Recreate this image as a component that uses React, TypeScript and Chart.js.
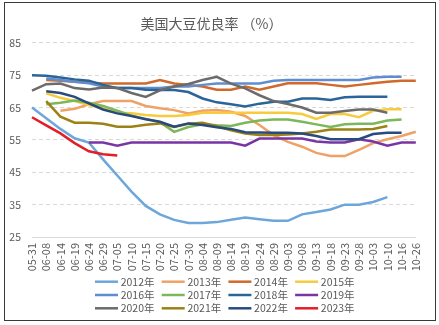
import React, { useEffect, useRef } from 'react';
import { Chart, registerables } from 'chart.js';

Chart.register(...registerables);

const N = null;

const categories = [
  '05-31', '06-08', '06-14', '06-19', '06-24', '06-29', '07-05', '07-10', '07-15', '07-20',
  '07-25', '07-30', '08-04', '08-09', '08-14', '08-19', '08-24', '08-29', '09-03', '09-08',
  '09-13', '09-18', '09-23', '09-28', '10-03', '10-10', '10-16', '10-26',
];

const years = ['2012年', '2013年', '2014年', '2015年', '2016年', '2017年', '2018年', '2019年', '2020年', '2021年', '2022年', '2023年'];

const y2012 = [65, 61.7, 58.4, 55.5, 54.2, 49, 44, 39, 34.6, 32, 30.3, 29.3, 29.3, 29.6, 30.3, 31, 30.5, 30, 30, 32, 32.7, 33.5, 35, 35, 35.8, 37.3, N, N];
const y2013 = [N, N, 64, 64.6, 66, 67, 67, 67, 65.5, 64.8, 64.2, 63.2, 64, 64.2, 63.7, 62.4, 59.6, 56.5, 54.4, 52.9, 51, 50, 50, 51.9, 54, 55.2, 56.2, 57.5];
const y2014 = [N, 73.5, 73.3, 73, 72.7, 72.4, 72.4, 72.4, 72.4, 73.5, 72.4, 72, 71.5, 70.5, 70.5, 71.5, 70.5, 71.5, 72.5, 72.5, 72.5, 72, 71.5, 72, 72.5, 73, 73.3, 73.3];
const y2015 = [N, 69.4, 68, 67, 65.8, 64.7, 63.4, 63.2, 62.7, 62.4, 62.4, 62.7, 63.4, 63.4, 63.4, 63.4, 63.4, 63.4, 63.4, 63, 61.5, 63, 63, 62, 64, 64.5, 64.5, N];
const y2016 = [N, 74, 73.5, 73, 72.5, 71.5, 71, 71, 71, 71, 71.5, 71.5, 72, 72.4, 72.4, 72.4, 72.4, 73.3, 73.5, 73.5, 73.5, 73.5, 73.5, 73.5, 74.3, 74.5, 74.5, N];
const y2017 = [N, 66, 66.5, 67.2, 66.5, 65.5, 64, 62.5, 61.5, 60.5, 57.5, 59, 59.8, 59.5, 59.3, 60.3, 61, 61.3, 61.3, 60.6, 59.8, 59, 59.8, 60, 60, 61, 61.3, N];
const y2018 = [75, 74.8, 74.3, 73.7, 73.3, 72, 71, 71, 70.5, 70.4, 70.4, 69.8, 67.8, 66.6, 66, 65.3, 66.2, 66.8, 66.8, 67.8, 67.8, 67.3, 68.2, 68.3, 68.3, 68.3, N, N];
const y2019 = [N, N, N, N, 54.2, 54.2, 53.2, 54.2, 54.2, 54.2, 54.2, 54.2, 54.2, 54.2, 54.2, 53.2, 55.4, 55.4, 55.4, 55.4, 54.5, 54.2, 54.2, 55.2, 54.5, 53.2, 54.2, 54.2];
const y2020 = [70.2, 72.2, 72.4, 71, 70.6, 71.2, 71, 69.5, 68.3, 70.3, 71.5, 72.3, 73.5, 74.5, 72.4, 70.9, 68.8, 67, 66.1, 65, 63.4, 63.4, 63.9, 64.4, 64.4, 63.4, N, N];
const y2021 = [N, 67, 62.2, 60.3, 60.3, 60, 59.1, 59.1, 59.7, 60.1, 59, 60, 60.3, 59.2, 58, 57, 56.5, 56.5, 56.7, 57, 57.5, 58.2, 58.2, 58.2, 58.4, 59.3, N, N];
const y2022 = [N, 70, 69.5, 68.3, 66.3, 64.4, 63.2, 62.4, 61.4, 60.6, 59.1, 60.1, 59.6, 58.9, 58.4, 57.4, 57.3, 57.2, 57.2, 57, 56.2, 55.2, 55.2, 55.2, 56.8, 57.2, 57.2, N];
const y2023 = [62, 59.5, 57, 54, 51.5, 50.6, 50.2, N, N, N, N, N, N, N, N, N, N, N, N, N, N, N, N, N, N, N, N, N];

const seriesValues = [y2012, y2013, y2014, y2015, y2016, y2017, y2018, y2019, y2020, y2021, y2022, y2023];

const seriesColors = [
  '#6CA6DA', '#F0A166', '#D0692B', '#F7CB3D', '#5F8ED0', '#7CB85A',
  '#2B6499', '#7A35A5', '#6B6B6B', '#9C8214', '#284A7E', '#E41E26',
];

const yMin = 25;
const yMax = 85;
const yStep = 10;

const titleText = '美国大豆优良率 （%）';

const FONT = '"Noto Sans CJK SC", "Noto Sans", sans-serif';
const TEXT_COLOR = '#595959';

const gridLegend = {
  id: 'gridLegend',
  afterDraw(chart: any) {
    const ctx = chart.ctx;
    const sets = chart.data.datasets;
    ctx.save();
    ctx.font = `10.5px ${FONT}`;
    ctx.textBaseline = 'middle';
    ctx.textAlign = 'left';
    sets.forEach((ds: any, i: number) => {
      const row = Math.floor(i / 4);
      const col = i % 4;
      const x = 90 + col * 66.7;
      const y = 278.7 + row * 13.3;
      ctx.strokeStyle = ds.borderColor;
      ctx.lineWidth = 2.5;
      ctx.lineCap = 'butt';
      ctx.beginPath();
      ctx.moveTo(x, y);
      ctx.lineTo(x + 23, y);
      ctx.stroke();
      ctx.fillStyle = TEXT_COLOR;
      ctx.fillText(ds.label, x + 25.7, y);
    });
    ctx.restore();
  },
};

export default function App() {
  const ref = useRef<HTMLCanvasElement | null>(null);

  useEffect(() => {
    if (!ref.current) return;
    const chart = new Chart(ref.current, {
      type: 'line',
      data: {
        labels: categories,
        datasets: years.map((label, i) => ({
          label,
          data: seriesValues[i],
          borderColor: seriesColors[i],
          backgroundColor: seriesColors[i],
          borderWidth: 2.5,
          pointRadius: 0,
          pointHoverRadius: 0,
          tension: 0,
          fill: false,
          spanGaps: false,
          order: years.length - 1 - i,
        })),
      },
      options: {
        responsive: false,
        animation: false,
        devicePixelRatio: 1,
        layout: { padding: { left: 0, right: 17, top: 0, bottom: 49 } },
        plugins: {
          legend: { display: false },
          tooltip: { enabled: false },
          title: {
            display: true,
            text: titleText,
            color: TEXT_COLOR,
            font: { size: 14, family: FONT, weight: 'normal' as any },
            padding: { top: 12, bottom: 11 },
          },
        },
        scales: {
          x: {
            type: 'category',
            offset: false,
            grid: { display: false, drawTicks: false },
            border: { display: true, color: '#d9d9d9', width: 1 },
            ticks: {
              autoSkip: false,
              minRotation: 90,
              maxRotation: 90,
              padding: 6,
              color: TEXT_COLOR,
              font: { size: 11, family: FONT },
            },
            afterFit: (s: any) => { s.height = 34; },
          },
          y: {
            min: yMin,
            max: yMax,
            ticks: {
              stepSize: yStep,
              padding: 11,
              color: TEXT_COLOR,
              font: { size: 10.5, family: FONT },
            },
            grid: { color: '#d9d9d9', drawTicks: false, lineWidth: 1 },
            border: { display: false, dash: [4, 3] },
            afterFit: (s: any) => { s.width = 27; },
          },
        },
      },
      plugins: [gridLegend],
    });
    return () => chart.destroy();
  }, []);

  return (
    <div
      style={{
        position: 'absolute',
        left: 4,
        top: 2,
        width: 432,
        height: 319,
        boxSizing: 'border-box',
        border: '1px solid #3a3a3a',
        background: '#fff',
      }}
    >
      <canvas ref={ref} width={430} height={317} style={{ display: 'block', width: 430, height: 317 }} />
    </div>
  );
}
